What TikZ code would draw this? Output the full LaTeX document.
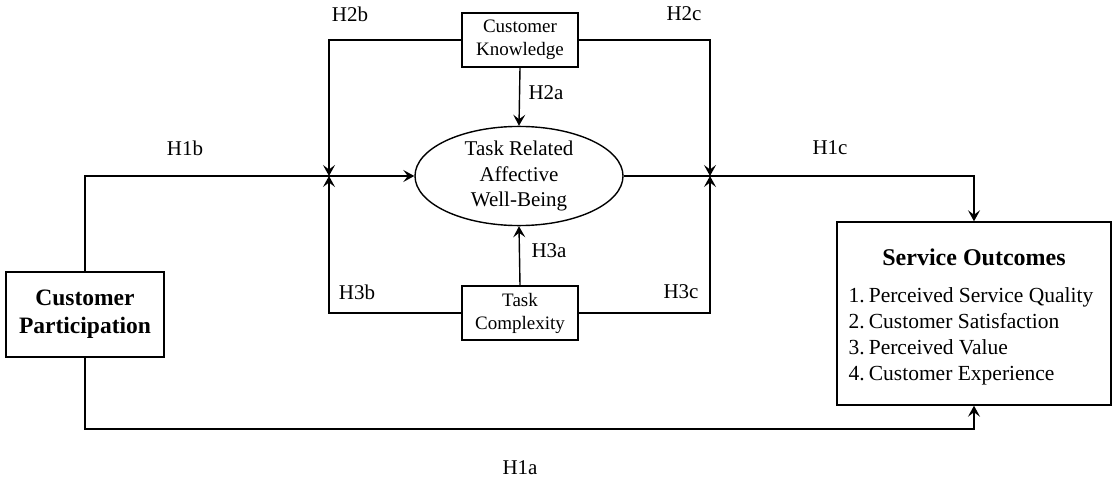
\documentclass[tikz,border=0pt]{standalone}
\usepackage{fontspec}
\setmainfont{Liberation Serif}
\usetikzlibrary{arrows.meta,shapes.geometric}

\begin{document}
\begin{tikzpicture}[x=1pt,y=-1pt,
  line width=1.4pt,
  tip/.style={-{Stealth[length=11pt,width=12pt,inset=4.5pt]}},
  bigbox/.style={draw,rectangle,inner sep=0pt},
  smallbox/.style={draw,rectangle,inner sep=0pt,minimum width=116pt,minimum height=54pt,
    align=center,font=\fontsize{19}{23}\selectfont},
  hlabel/.style={font=\fontsize{21}{25}\selectfont,inner sep=0pt}]

\useasboundingbox (0,0) rectangle (1113,484);

% nodes
\node[bigbox,minimum width=158pt,minimum height=85pt,align=center,
  font=\bfseries\fontsize{23.5}{28}\selectfont] (cp) at (85,314.5) {Customer\\Participation};
\node[draw,ellipse,inner sep=0pt,minimum width=208pt,minimum height=88pt,align=center,
  font=\fontsize{21}{25.5}\selectfont] (wb) at (519,176) {Task Related\\Affective\\Well-Being};
\node[smallbox] (ck) at (520,40) {Customer\\Knowledge};
\node[smallbox] (tc) at (520,313) {Task\\Complexity};
\node[bigbox,minimum width=274pt,minimum height=183pt] (so) at (974,313.5) {};
\node[font=\bfseries\fontsize{24}{28}\selectfont,anchor=base,inner sep=0pt] (sot) at (974,265) {Service Outcomes};
\node[anchor=base west,inner sep=0pt,font=\fontsize{21.5}{26}\selectfont] (sol) at (848,302)
  {\begin{tabular}[t]{@{}l@{\hspace{4pt}}l@{}}
   1. & Perceived Service Quality\\
   2. & Customer Satisfaction\\
   3. & Perceived Value\\
   4. & Customer Experience
   \end{tabular}};

% junctions and bends
\coordinate (jl) at (329,176);
\coordinate (jr) at (710,176);
\coordinate (bl) at (85,429);

% connectors
\draw (cp.north) |- (jl);
\draw[tip] (jl) -- (wb.west);
\draw[tip] (ck.west) -| (jl);
\draw[tip] (tc.west) -| (jl);
\draw[tip] (ck.east) -| (jr);
\draw[tip] (tc.east) -| (jr);
\draw[tip] (wb.east) -- (jr) -| (so.north);
\draw[tip] (ck.south) -- (wb.north);
\draw[tip] (tc.north) -- (wb.south);
\draw[tip] (cp.south) -- (bl) -| (so.south);

% hypothesis labels
\node[hlabel] (h1a) at (520,468) {H1a};
\node[hlabel] (h1b) at (185,148) {H1b};
\node[hlabel] (h1c) at (830,148) {H1c};
\node[hlabel] (h2a) at (546,93) {H2a};
\node[hlabel] (h2b) at (350,14) {H2b};
\node[hlabel] (h2c) at (684,14) {H2c};
\node[hlabel] (h3a) at (549,251) {H3a};
\node[hlabel] (h3b) at (357,292) {H3b};
\node[hlabel] (h3c) at (681,292) {H3c};
\end{tikzpicture}
\end{document}
